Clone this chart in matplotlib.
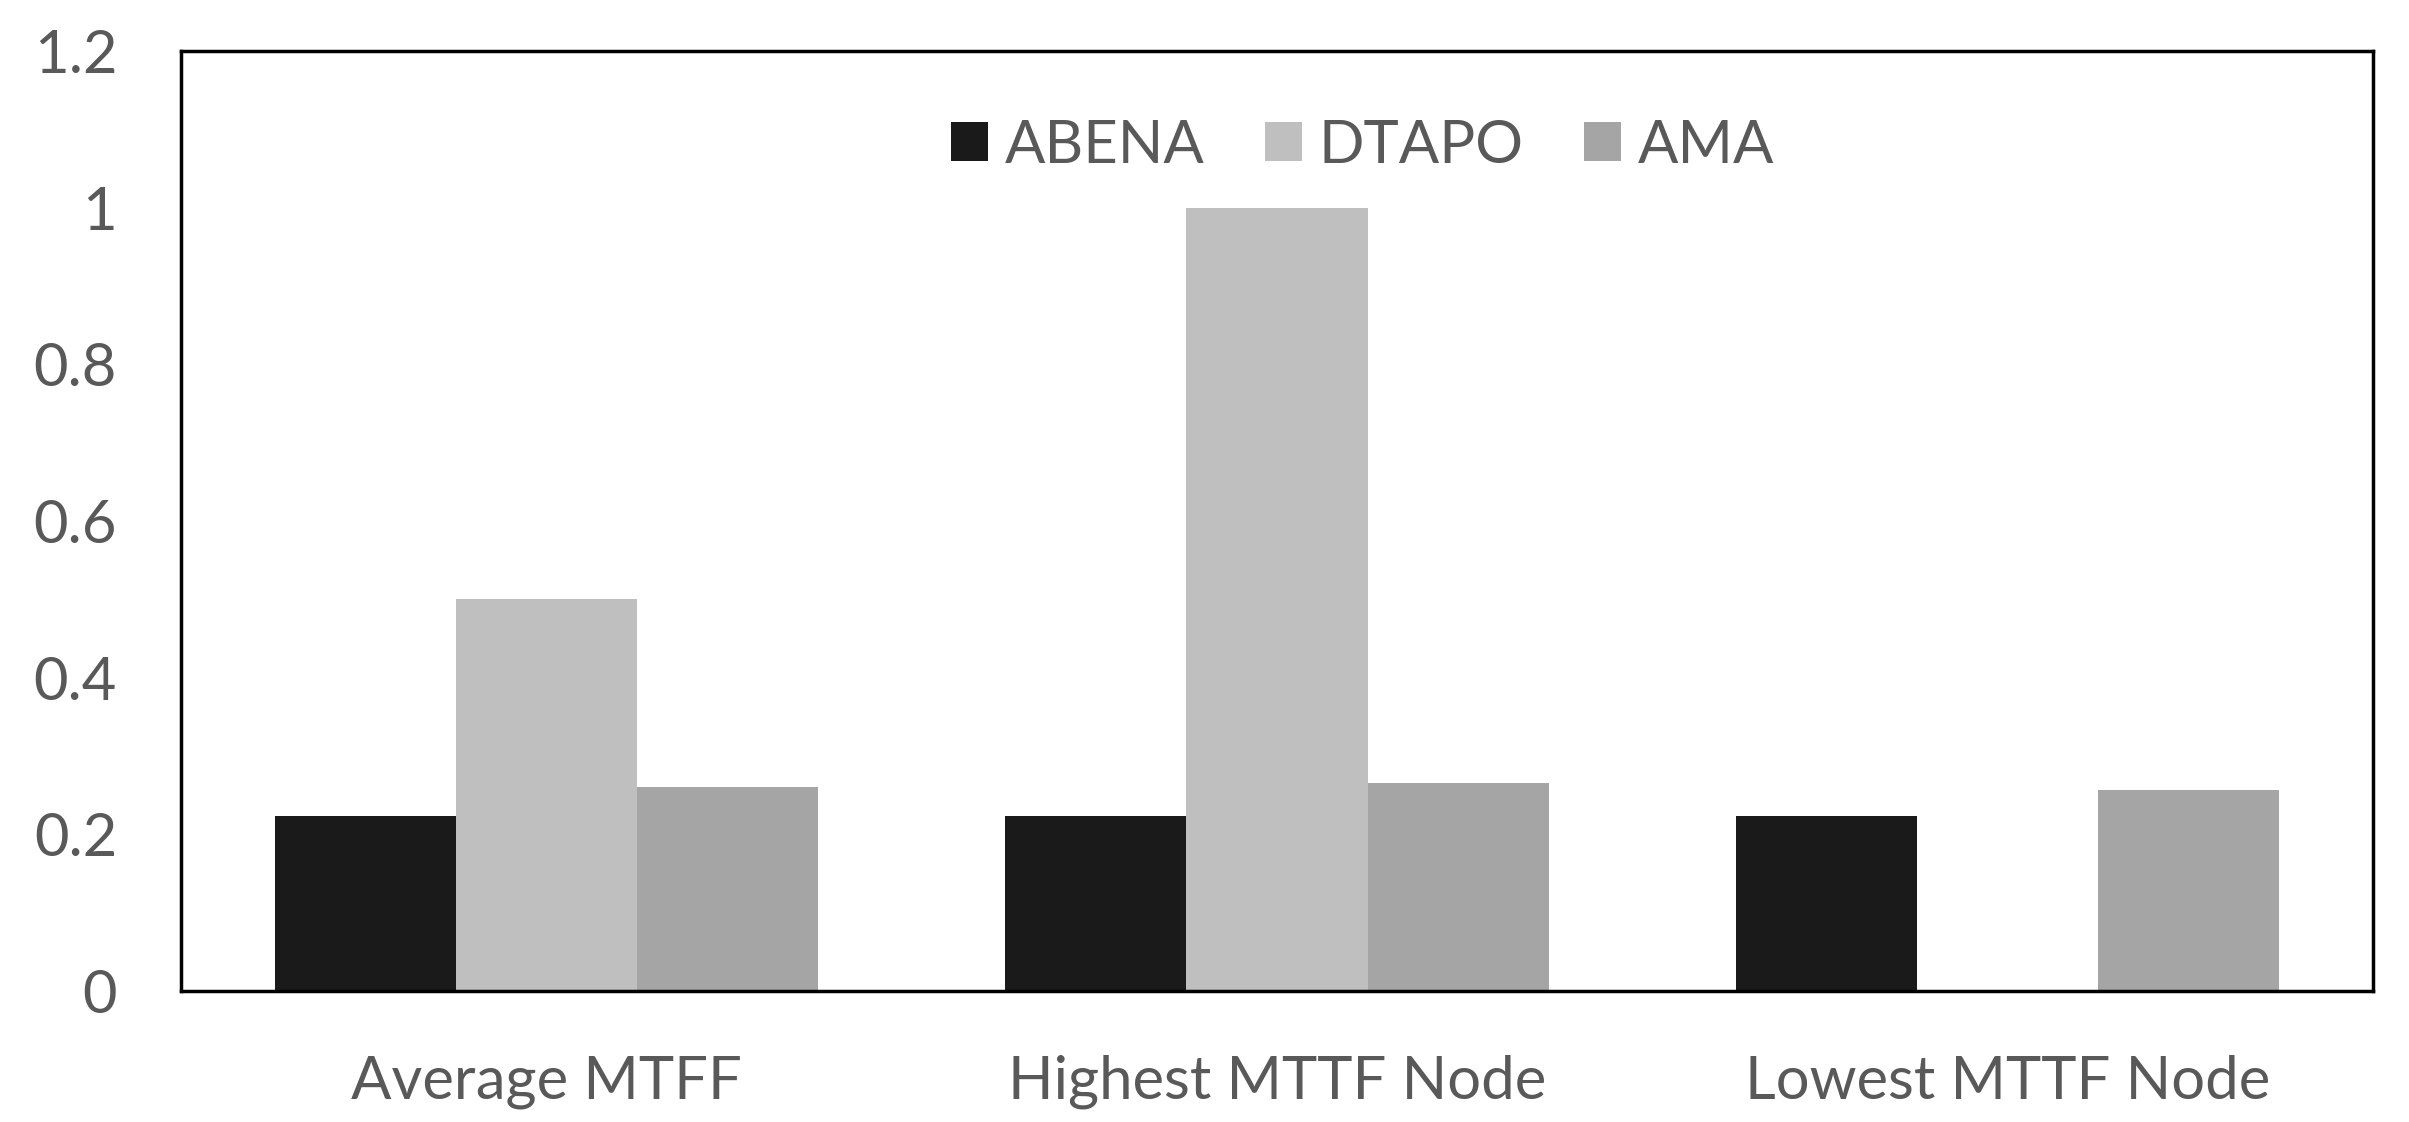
import matplotlib
matplotlib.use('Agg')
import matplotlib.pyplot as plt
import numpy as np

# Chart values
categories = ['Average MTFF', 'Highest MTTF Node', 'Lowest MTTF Node']
series = ['ABENA', 'DTAPO', 'AMA']
abena = [0.223, 0.223, 0.223]
dtapo = [0.50, 1.0, 0.0]
ama = [0.26, 0.266, 0.256]
colours = ['#1a1a1a', '#bfbfbf', '#a5a5a5']
yticks = [0, 0.2, 0.4, 0.6, 0.8, 1, 1.2]
ytick_labels = ['0', '0.2', '0.4', '0.6', '0.8', '1', '1.2']

TEXT = '#595959'
plt.rcParams['font.family'] = ['Lato', 'DejaVu Sans']

figure = plt.figure(figsize=(24.09, 11.22), dpi=100)
axes = figure.add_axes([181 / 2409, 1 - 991 / 1122, (2373 - 181) / 2409, (991 - 51) / 1122])

# Draw the grouped bars
x = np.arange(len(categories))
width = 0.248
for i, (name, values) in enumerate(zip(series, [abena, dtapo, ama])):
  axes.bar(x + (i - 1) * width, values, width, color=colours[i], label=name, zorder=2)

# Format axes
axes.set_xlim(-0.5, len(categories) - 0.5)
axes.set_ylim(0, 1.2)
axes.set_yticks(yticks)
axes.set_yticklabels(ytick_labels)
axes.set_xticks(x)
axes.set_xticklabels(categories)
axes.tick_params(axis='both', length=0, labelsize=43, colors=TEXT)
axes.tick_params(axis='y', pad=46)
axes.tick_params(axis='x', pad=46)
for spine in axes.spines.values():
  spine.set_linewidth(2.5)
  spine.set_color('black')

legend = axes.legend(loc='center', bbox_to_anchor=(0.539, 0.899), ncol=3, frameon=False,
                     fontsize=43, handlelength=0.63, handleheight=0.63, handletextpad=0.28,
                     columnspacing=1.0)
for text in legend.get_texts():
  text.set_color(TEXT)

plt.savefig('out.png')
plt.close()
